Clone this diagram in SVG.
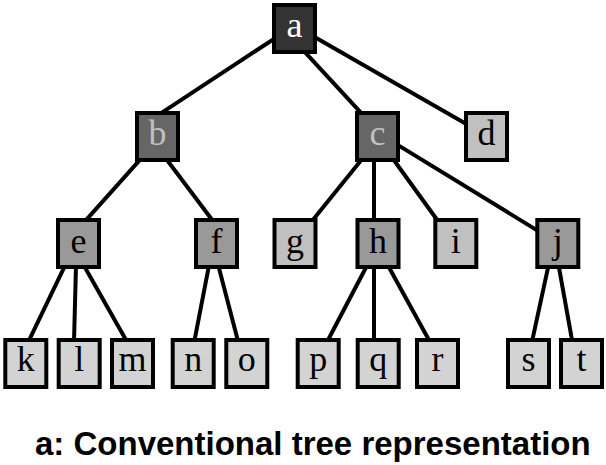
<svg xmlns="http://www.w3.org/2000/svg" width="606" height="465" viewBox="0 0 606 465">
<style>
.n rect{stroke:#000;stroke-width:4}
.n text{font-family:"Liberation Serif","Times New Roman",serif;font-size:36px;text-anchor:middle}
.l0 rect{fill:#333333}.l0 text{fill:#ffffff}
.l1 rect{fill:#666666}.l1 text{fill:#c0c0c0}
.l2 rect{fill:#999999}.l2 text{fill:#000}
.l3 rect{fill:#c0c0c0}.l3 text{fill:#000}
.l4 rect{fill:#d3d3d3}.l4 text{fill:#000}
#edges line{stroke:#000;stroke-width:4}
.cap{font-family:"Liberation Sans",Arial,sans-serif;font-weight:bold;font-size:33px;fill:#000}
</style>
<rect width="606" height="465" fill="#fff"/>
<g id="edges">
<line x1="275.6" y1="37.8" x2="160" y2="113.9"/>
<line x1="304" y1="51.1" x2="362.7" y2="114.6"/>
<line x1="313.2" y1="36.3" x2="468.5" y2="125.3"/>
<line x1="141" y1="158.7" x2="84" y2="222.3"/>
<line x1="165.9" y1="158.5" x2="214.1" y2="222.5"/>
<line x1="362.5" y1="158.6" x2="310.8" y2="222.4"/>
<line x1="374" y1="158" x2="374" y2="222"/>
<line x1="392.7" y1="158.5" x2="439" y2="222.5"/>
<line x1="397.6" y1="144.9" x2="538.4" y2="231.1"/>
<line x1="65" y1="265.7" x2="28.3" y2="341.9"/>
<line x1="76" y1="265" x2="74" y2="342"/>
<line x1="84" y1="265.8" x2="127" y2="341.8"/>
<line x1="209" y1="265.4" x2="194.2" y2="342.2"/>
<line x1="218.3" y1="265.4" x2="238.3" y2="342.2"/>
<line x1="366.9" y1="265.8" x2="327.1" y2="341.8"/>
<line x1="374" y1="265" x2="374" y2="342"/>
<line x1="388.1" y1="265.8" x2="429.9" y2="341.8"/>
<line x1="548.5" y1="265.4" x2="531.9" y2="342.2"/>
<line x1="558.6" y1="265.4" x2="572.4" y2="342.2"/>
</g>
<g id="a" class="n l0"><rect x="274" y="5" width="41" height="47"/><text x="294.5" y="37">a</text></g>
<g id="b" class="n l1"><rect x="137" y="113" width="41" height="47"/><text x="157.5" y="145">b</text></g>
<g id="c" class="n l1"><rect x="357" y="113" width="41" height="47"/><text x="377.5" y="145">c</text></g>
<g id="d" class="n l3"><rect x="466" y="113" width="41" height="47"/><text x="486.5" y="145">d</text></g>
<g id="e" class="n l2"><rect x="58" y="220" width="41" height="47"/><text x="78.5" y="252.5">e</text></g>
<g id="f" class="n l2"><rect x="196" y="220" width="41" height="47"/><text x="216.5" y="252.5">f</text></g>
<g id="g" class="n l3"><rect x="274.5" y="220" width="41" height="47"/><text x="295" y="252.5">g</text></g>
<g id="h" class="n l2"><rect x="357.5" y="220" width="41" height="47"/><text x="378" y="252.5">h</text></g>
<g id="i" class="n l3"><rect x="435.3" y="220" width="41" height="47"/><text x="455.8" y="252.5">i</text></g>
<g id="j" class="n l2"><rect x="537.3" y="220" width="41" height="47"/><text x="557.8" y="252.5">j</text></g>
<g id="k" class="n l4"><rect x="5.3" y="340" width="41" height="47"/><text x="25.8" y="370.5">k</text></g>
<g id="l" class="n l4"><rect x="58.7" y="340" width="41" height="47"/><text x="79.2" y="370.5">l</text></g>
<g id="m" class="n l4"><rect x="112" y="340" width="41" height="47"/><text x="132.5" y="370.5">m</text></g>
<g id="nn" class="n l4"><rect x="172.7" y="340" width="41" height="47"/><text x="193.2" y="370.5">n</text></g>
<g id="o" class="n l4"><rect x="226.3" y="340" width="41" height="47"/><text x="246.8" y="370.5">o</text></g>
<g id="p" class="n l4"><rect x="297.7" y="340" width="41" height="47"/><text x="318.2" y="370.5">p</text></g>
<g id="q" class="n l4"><rect x="357.7" y="340" width="41" height="47"/><text x="378.2" y="370.5">q</text></g>
<g id="r" class="n l4"><rect x="417" y="340" width="41" height="47"/><text x="437.5" y="370.5">r</text></g>
<g id="s" class="n l4"><rect x="508" y="340" width="41" height="47"/><text x="528.5" y="370.5">s</text></g>
<g id="t" class="n l4"><rect x="561" y="340" width="41" height="47"/><text x="581.5" y="370.5">t</text></g>
<text class="cap" x="35" y="455">a: Conventional tree representation</text>
</svg>
